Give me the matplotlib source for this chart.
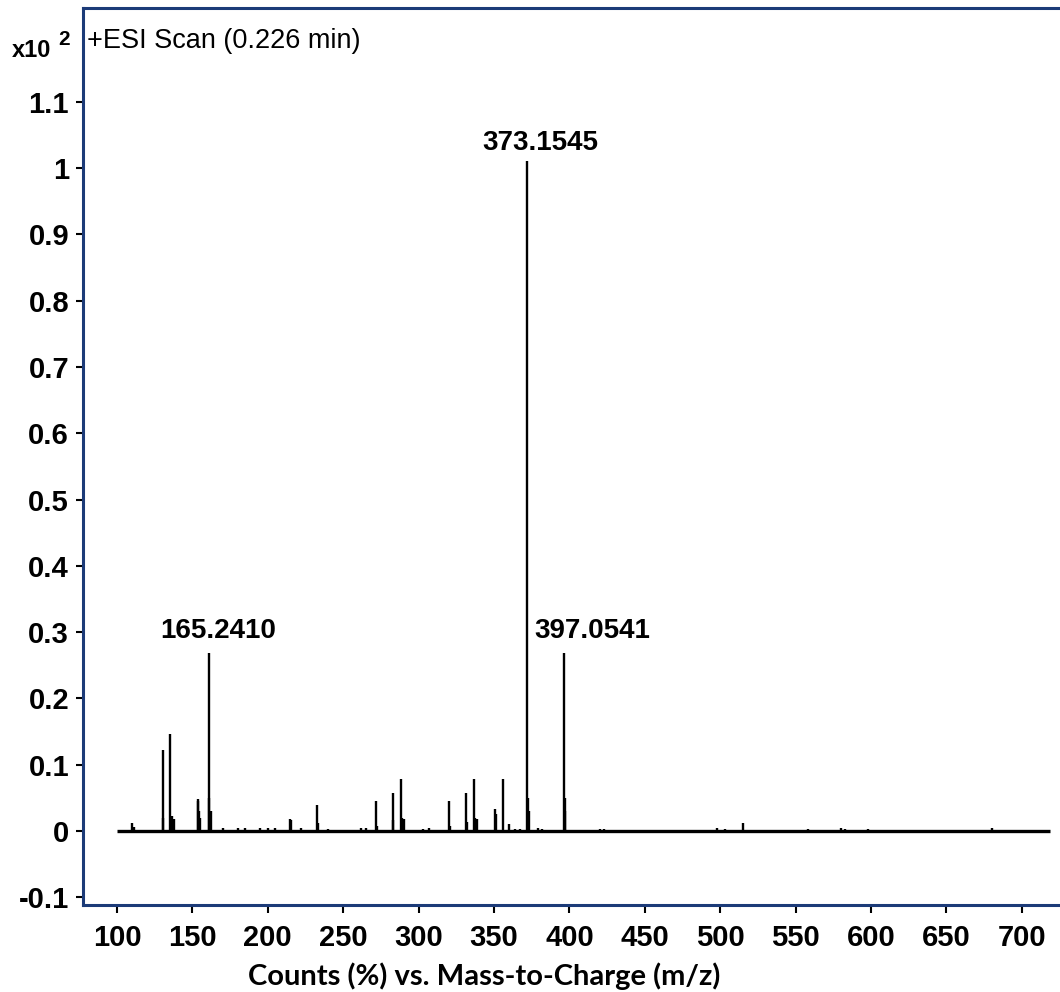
import numpy as np
import matplotlib
matplotlib.use("Agg")
import matplotlib.pyplot as plt

# Peak list: m/z and intensity (x10^2 counts %)
mz = [110, 111, 130.3, 130.8, 135.3, 136.5, 138, 153.5, 154, 154.5, 155,
      160.7, 161.3, 162, 170, 180, 185, 195, 200, 205, 215, 215.6, 222,
      232.5, 233, 240, 262, 265, 271.7, 272.3, 282.8, 283.3, 288, 288.8,
      290, 303, 307, 320.3, 321, 331.6, 332.2, 336.5, 337.3, 338.5, 350.5,
      351.5, 356, 360.2, 364, 367, 372, 372.5, 373, 379, 382, 396.3, 396.8,
      397.3, 420, 423, 436, 498, 503, 515.3, 558, 580, 583, 598, 680]
intensity = [0.012, 0.006, 0.122, 0.02, 0.146, 0.022, 0.018, 0.048, 0.045,
             0.03, 0.02, 0.268, 0.05, 0.03, 0.004, 0.004, 0.004, 0.004,
             0.004, 0.004, 0.018, 0.016, 0.005, 0.039, 0.012, 0.003, 0.004,
             0.004, 0.045, 0.008, 0.058, 0.016, 0.078, 0.02, 0.018, 0.003,
             0.004, 0.045, 0.008, 0.058, 0.014, 0.078, 0.02, 0.018, 0.033,
             0.025, 0.078, 0.011, 0.003, 0.003, 1.01, 0.05, 0.03, 0.004,
             0.003, 0.268, 0.05, 0.03, 0.003, 0.003, 0.002, 0.004, 0.003,
             0.012, 0.003, 0.004, 0.003, 0.003, 0.004]

# labelled peaks: text and where its baseline sits
label_text = ["165.2410", "373.1545", "397.0541"]
label_x = [167, 380.5, 415]
label_y = [0.291, 1.027, 0.291]

x_ticks = [100, 150, 200, 250, 300, 350, 400, 450, 500, 550, 600, 650, 700]
y_ticks = [-0.1, 0, 0.1, 0.2, 0.3, 0.4, 0.5, 0.6, 0.7, 0.8, 0.9, 1, 1.1]
y_ticklabels = ["-0.1", "0", "0.1", "0.2", "0.3", "0.4", "0.5", "0.6",
                "0.7", "0.8", "0.9", "1", "1.1"]

sans = ["Liberation Sans", "DejaVu Sans"]
frame = "#1c3b78"

fig = plt.figure(figsize=(10.6, 9.92), dpi=100)
ax = fig.add_axes([0.0783, 0.0877, 1 - 0.0783, 0.9919 - 0.0877])

# baseline and peaks
ax.hlines(0, 100, 719, color="black", lw=2.4)
ax.vlines(mz, 0, intensity, color="black", lw=1.7)

for t, x, y in zip(label_text, label_x, label_y):
    ax.text(x, y, t, ha="center", va="baseline", fontsize=20,
            fontweight="bold", family=sans)

ax.text(0.004, 0.963, "+ESI Scan (0.226 min)", transform=ax.transAxes,
        ha="left", va="center", fontsize=19.5, family=sans)

ax.set_xlim(77.45, 725.3)
ax.set_ylim(-0.1116, 1.2413)
ax.set_xticks(x_ticks)
ax.set_yticks(y_ticks)
ax.set_yticklabels(y_ticklabels)

for lab in ax.get_xticklabels() + ax.get_yticklabels():
    lab.set_family(sans)
    lab.set_fontweight("bold")
    lab.set_fontsize(21)

ax.tick_params(axis="y", direction="out", length=5, width=1.5, pad=5)
ax.tick_params(axis="x", direction="out", length=6, width=1.5, pad=8)

ax.spines["right"].set_visible(False)
for s in ["left", "top", "bottom"]:
    ax.spines[s].set_color(frame)
    ax.spines[s].set_linewidth(2.2)

# exponent marker above the y axis
fig.text(12 / 1060, 1 - 57 / 992, "x10", ha="left", va="baseline",
         fontsize=17, fontweight="bold", family=sans)
fig.text(58 / 1060, 1 - 45 / 992, "2", ha="left", va="baseline",
         fontsize=15, fontweight="bold", family=sans)

fig.text(484 / 1060, 1 - 976 / 992, "Counts (%) vs. Mass-to-Charge (m/z)",
         ha="center", va="center", fontsize=21, fontweight="bold",
         family=["Lato", "DejaVu Sans"])

plt.savefig("out.png", dpi=100)
